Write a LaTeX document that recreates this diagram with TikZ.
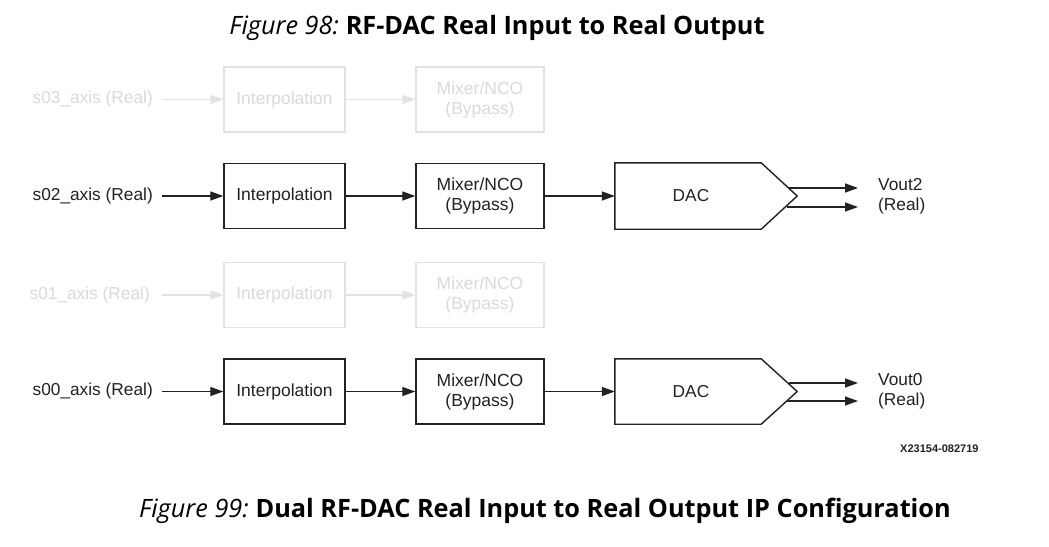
\documentclass[tikz,border=0pt]{standalone}
\usepackage{fontspec}
\setmainfont{Liberation Sans}
\newfontfamily\capfont{Open Sans}
\usetikzlibrary{arrows.meta}
\definecolor{ink}{HTML}{222222}
\definecolor{fade}{HTML}{DADADA}
\definecolor{fadebox}{HTML}{E2E2E2}
\tikzset{
  blk/.style={draw=ink, line width=1.4pt, minimum height=65pt, inner sep=0pt, font=\fontsize{17.5}{20}\selectfont, text=ink, align=center},
  fblk/.style={blk, draw=fadebox, text=fade},
  lbl/.style={inner sep=0pt, font=\fontsize{17.3}{20}\selectfont, text=ink, align=left},
  flbl/.style={lbl, text=fade},
  arr/.style={draw=ink, line width=1.3pt, -{Triangle[length=13pt,width=9pt]}},
  farr/.style={arr, draw=fadebox, fill=fadebox},
  dacout/.style={draw=ink, line width=1.4pt},
  figcap/.style={inner sep=0pt, font=\capfont\fontsize{25.3}{28}\selectfont, text=black},
}
\begin{document}
\begin{tikzpicture}[x=1pt,y=-1pt]
\useasboundingbox[fill=white] (0,0) rectangle (1049,546);
% titles
\node[figcap] (t1) at (497,28) {\itshape Figure 98:\hspace{-2pt} \bfseries\upshape RF-DAC Real Input to Real Output};
\node[figcap] (t2) at (545,511) {\itshape Figure 99:\hspace{-2pt} \bfseries\upshape Dual RF-DAC Real Input to Real Output IP Configuration};

% row s03 (faded)
\node[flbl, anchor=east] (in3) at (153,99.5) {s03\_axis (Real)};
\node[fblk, minimum width=121pt] (int3) at (284.5,99.5) {Interpolation};
\node[fblk, minimum width=128pt] (mix3) at (480,99.5) {Mixer/NCO\\(Bypass)};
\draw[farr, shorten <=9pt] (in3.east) -- (int3.west);
\draw[farr] (int3.east) -- (mix3.west);

% row s02
\node[lbl, anchor=east] (in2) at (153,196) {s02\_axis (Real)};
\node[blk, minimum width=121pt] (int2) at (284.5,196) {Interpolation};
\node[blk, minimum width=128pt] (mix2) at (480,196) {Mixer/NCO\\(Bypass)};
\node[inner sep=0pt, minimum width=182pt, minimum height=66pt] (dac2) at (706,196) {};
\node[lbl] (dac2t) at (691,196) {DAC};
\draw[dacout] (dac2.north west) -- ([xshift=-36pt]dac2.north east) -- (dac2.east) -- ([xshift=-36pt]dac2.south east) -- (dac2.south west) -- cycle;
\draw[arr, shorten <=9pt] (in2.east) -- (int2.west);
\draw[arr] (int2.east) -- (mix2.west);
\draw[arr] (mix2.east) -- (dac2.west);
\coordinate (o2a) at (789,188);
\coordinate (o2b) at (787,207);
\coordinate (e2a) at (858,188);
\coordinate (e2b) at (858,207);
\draw[arr] (o2a) -- (e2a);
\draw[arr] (o2b) -- (e2b);
\node[lbl, anchor=west] (v2) at (878,196.5) {Vout2\\(Real)};

% row s01 (faded)
\node[flbl, anchor=east] (in1) at (150,295) {s01\_axis (Real)};
\node[fblk, minimum width=121pt] (int1) at (284.5,295) {Interpolation};
\node[fblk, minimum width=128pt] (mix1) at (480,295) {Mixer/NCO\\(Bypass)};
\draw[farr, shorten <=12pt] (in1.east) -- (int1.west);
\draw[farr] (int1.east) -- (mix1.west);

% row s00
\node[lbl, anchor=east] (in0) at (153,391.5) {s00\_axis (Real)};
\node[blk, minimum width=121pt] (int0) at (284.5,391.5) {Interpolation};
\node[blk, minimum width=128pt] (mix0) at (480,391.5) {Mixer/NCO\\(Bypass)};
\node[inner sep=0pt, minimum width=182pt, minimum height=65pt] (dac0) at (706,391.5) {};
\node[lbl] (dac0t) at (691,391.5) {DAC};
\draw[dacout] (dac0.north west) -- ([xshift=-36pt]dac0.north east) -- (dac0.east) -- ([xshift=-36pt]dac0.south east) -- (dac0.south west) -- cycle;
\draw[arr, shorten <=9pt] (in0.east) -- (int0.west);
\draw[arr] (int0.east) -- (mix0.west);
\draw[arr] (mix0.east) -- (dac0.west);
\coordinate (o0a) at (789,383);
\coordinate (o0b) at (787,401);
\coordinate (e0a) at (858,383);
\coordinate (e0b) at (858,401);
\draw[arr] (o0a) -- (e0a);
\draw[arr] (o0b) -- (e0b);
\node[lbl, anchor=west] (v0) at (878,391.5) {Vout0\\(Real)};

\node[inner sep=0pt, anchor=west, text=ink, font=\fontsize{11}{12}\selectfont\bfseries] (id) at (900,449) {X23154-082719};
\end{tikzpicture}
\end{document}
